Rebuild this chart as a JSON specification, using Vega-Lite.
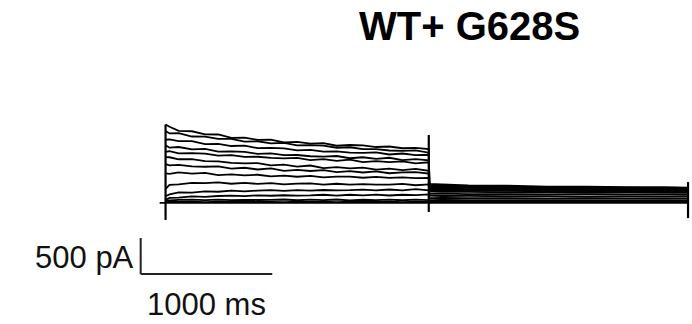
{
"$schema": "https://vega.github.io/schema/vega-lite/v6.json",
"width": 692, "height": 324,
"autosize": {"type": "fit", "contains": "padding"},
"padding": 0,
"background": "white",
"config": {"view": {"stroke": null}, "font": "Liberation Sans"},
"layer": [
{
"data": {"values": [
{"s":0,"t":-45,"i":0},{"s":0,"t":3970,"i":0},
{"s":1,"t":0,"i":1090},{"s":1,"t":30,"i":1059},{"s":1,"t":100,"i":1001},{"s":1,"t":200,"i":996},{"s":1,"t":300,"i":954},{"s":1,"t":400,"i":951},{"s":1,"t":500,"i":903},{"s":1,"t":600,"i":907},{"s":1,"t":700,"i":876},{"s":1,"t":800,"i":881},{"s":1,"t":900,"i":840},{"s":1,"t":1000,"i":849},{"s":1,"t":1100,"i":823},{"s":1,"t":1200,"i":830},{"s":1,"t":1300,"i":795},{"s":1,"t":1400,"i":805},{"s":1,"t":1500,"i":800},{"s":1,"t":1600,"i":777},{"s":1,"t":1700,"i":784},{"s":1,"t":1800,"i":760},{"s":1,"t":1900,"i":764},{"s":1,"t":2000,"i":747},
{"s":1,"t":2005,"i":264},{"s":1,"t":2100,"i":258},{"s":1,"t":2300,"i":243},{"s":1,"t":2600,"i":239},{"s":1,"t":2900,"i":226},{"s":1,"t":3200,"i":227},{"s":1,"t":3500,"i":218},{"s":1,"t":3800,"i":219},{"s":1,"t":3970,"i":214},
{"s":2,"t":0,"i":1001},{"s":2,"t":30,"i":966},{"s":2,"t":100,"i":971},{"s":2,"t":200,"i":923},{"s":2,"t":300,"i":922},{"s":2,"t":400,"i":891},{"s":2,"t":500,"i":891},{"s":2,"t":600,"i":852},{"s":2,"t":700,"i":857},{"s":2,"t":800,"i":828},{"s":2,"t":900,"i":834},{"s":2,"t":1000,"i":799},{"s":2,"t":1100,"i":803},{"s":2,"t":1200,"i":796},{"s":2,"t":1300,"i":767},{"s":2,"t":1400,"i":774},{"s":2,"t":1500,"i":747},{"s":2,"t":1600,"i":748},{"s":2,"t":1700,"i":729},{"s":2,"t":1800,"i":724},{"s":2,"t":1900,"i":730},{"s":2,"t":2000,"i":699},
{"s":2,"t":2005,"i":252},{"s":2,"t":2100,"i":240},{"s":2,"t":2300,"i":236},{"s":2,"t":2600,"i":223},{"s":2,"t":2900,"i":221},{"s":2,"t":3200,"i":212},{"s":2,"t":3500,"i":212},{"s":2,"t":3800,"i":205},{"s":2,"t":3970,"i":206},
{"s":3,"t":0,"i":878},{"s":3,"t":30,"i":882},{"s":3,"t":100,"i":858},{"s":3,"t":200,"i":858},{"s":3,"t":300,"i":818},{"s":3,"t":400,"i":821},{"s":3,"t":500,"i":791},{"s":3,"t":600,"i":797},{"s":3,"t":700,"i":761},{"s":3,"t":800,"i":765},{"s":3,"t":900,"i":758},{"s":3,"t":1000,"i":730},{"s":3,"t":1100,"i":737},{"s":3,"t":1200,"i":713},{"s":3,"t":1300,"i":716},{"s":3,"t":1400,"i":699},{"s":3,"t":1500,"i":695},{"s":3,"t":1600,"i":702},{"s":3,"t":1700,"i":673},{"s":3,"t":1800,"i":687},{"s":3,"t":1900,"i":665},{"s":3,"t":2000,"i":670},
{"s":3,"t":2005,"i":234},{"s":3,"t":2100,"i":231},{"s":3,"t":2300,"i":218},{"s":3,"t":2600,"i":215},{"s":3,"t":2900,"i":205},{"s":3,"t":3200,"i":204},{"s":3,"t":3500,"i":197},{"s":3,"t":3800,"i":198},{"s":3,"t":3970,"i":194},
{"s":4,"t":0,"i":803},{"s":4,"t":30,"i":768},{"s":4,"t":100,"i":777},{"s":4,"t":200,"i":745},{"s":4,"t":300,"i":750},{"s":4,"t":400,"i":714},{"s":4,"t":500,"i":717},{"s":4,"t":600,"i":710},{"s":4,"t":700,"i":682},{"s":4,"t":800,"i":689},{"s":4,"t":900,"i":665},{"s":4,"t":1000,"i":666},{"s":4,"t":1100,"i":649},{"s":4,"t":1200,"i":645},{"s":4,"t":1300,"i":652},{"s":4,"t":1400,"i":621},{"s":4,"t":1500,"i":635},{"s":4,"t":1600,"i":612},{"s":4,"t":1700,"i":628},{"s":4,"t":1800,"i":594},{"s":4,"t":1900,"i":608},{"s":4,"t":2000,"i":593},
{"s":4,"t":2005,"i":224},{"s":4,"t":2100,"i":213},{"s":4,"t":2300,"i":211},{"s":4,"t":2600,"i":199},{"s":4,"t":2900,"i":198},{"s":4,"t":3200,"i":190},{"s":4,"t":3500,"i":191},{"s":4,"t":3800,"i":184},{"s":4,"t":3970,"i":186},
{"s":5,"t":0,"i":708},{"s":5,"t":30,"i":720},{"s":5,"t":100,"i":689},{"s":5,"t":200,"i":693},{"s":5,"t":300,"i":686},{"s":5,"t":400,"i":657},{"s":5,"t":500,"i":664},{"s":5,"t":600,"i":640},{"s":5,"t":700,"i":642},{"s":5,"t":800,"i":625},{"s":5,"t":900,"i":620},{"s":5,"t":1000,"i":626},{"s":5,"t":1100,"i":596},{"s":5,"t":1200,"i":609},{"s":5,"t":1300,"i":586},{"s":5,"t":1400,"i":602},{"s":5,"t":1500,"i":568},{"s":5,"t":1600,"i":582},{"s":5,"t":1700,"i":566},{"s":5,"t":1800,"i":578},{"s":5,"t":1900,"i":550},{"s":5,"t":2000,"i":565},
{"s":5,"t":2005,"i":206},{"s":5,"t":2100,"i":204},{"s":5,"t":2300,"i":193},{"s":5,"t":2600,"i":191},{"s":5,"t":2900,"i":182},{"s":5,"t":3200,"i":182},{"s":5,"t":3500,"i":176},{"s":5,"t":3800,"i":177},{"s":5,"t":3970,"i":174},
{"s":6,"t":0,"i":637},{"s":6,"t":30,"i":635},{"s":6,"t":100,"i":607},{"s":6,"t":200,"i":609},{"s":6,"t":300,"i":581},{"s":6,"t":400,"i":579},{"s":6,"t":500,"i":558},{"s":6,"t":600,"i":550},{"s":6,"t":700,"i":554},{"s":6,"t":800,"i":521},{"s":6,"t":900,"i":532},{"s":6,"t":1000,"i":506},{"s":6,"t":1100,"i":520},{"s":6,"t":1200,"i":485},{"s":6,"t":1300,"i":497},{"s":6,"t":1400,"i":480},{"s":6,"t":1500,"i":491},{"s":6,"t":1600,"i":463},{"s":6,"t":1700,"i":477},{"s":6,"t":1800,"i":457},{"s":6,"t":1900,"i":473},{"s":6,"t":2000,"i":447},
{"s":6,"t":2005,"i":196},{"s":6,"t":2100,"i":187},{"s":6,"t":2300,"i":185},{"s":6,"t":2600,"i":175},{"s":6,"t":2900,"i":175},{"s":6,"t":3200,"i":168},{"s":6,"t":3500,"i":169},{"s":6,"t":3800,"i":165},{"s":6,"t":3970,"i":166},
{"s":7,"t":0,"i":539},{"s":7,"t":30,"i":523},{"s":7,"t":100,"i":528},{"s":7,"t":200,"i":509},{"s":7,"t":300,"i":503},{"s":7,"t":400,"i":508},{"s":7,"t":500,"i":477},{"s":7,"t":600,"i":489},{"s":7,"t":700,"i":465},{"s":7,"t":800,"i":481},{"s":7,"t":900,"i":447},{"s":7,"t":1000,"i":460},{"s":7,"t":1100,"i":444},{"s":7,"t":1200,"i":456},{"s":7,"t":1300,"i":428},{"s":7,"t":1400,"i":443},{"s":7,"t":1500,"i":423},{"s":7,"t":1600,"i":439},{"s":7,"t":1700,"i":413},{"s":7,"t":1800,"i":426},{"s":7,"t":1900,"i":429},{"s":7,"t":2000,"i":409},
{"s":7,"t":2005,"i":178},{"s":7,"t":2100,"i":178},{"s":7,"t":2300,"i":169},{"s":7,"t":2600,"i":168},{"s":7,"t":2900,"i":160},{"s":7,"t":3200,"i":161},{"s":7,"t":3500,"i":156},{"s":7,"t":3800,"i":157},{"s":7,"t":3970,"i":154},
{"s":8,"t":0,"i":411},{"s":8,"t":30,"i":403},{"s":8,"t":100,"i":426},{"s":8,"t":200,"i":407},{"s":8,"t":300,"i":418},{"s":8,"t":400,"i":388},{"s":8,"t":500,"i":398},{"s":8,"t":600,"i":384},{"s":8,"t":700,"i":392},{"s":8,"t":800,"i":370},{"s":8,"t":900,"i":381},{"s":8,"t":1000,"i":364},{"s":8,"t":1100,"i":377},{"s":8,"t":1200,"i":355},{"s":8,"t":1300,"i":365},{"s":8,"t":1400,"i":366},{"s":8,"t":1500,"i":350},{"s":8,"t":1600,"i":361},{"s":8,"t":1700,"i":348},{"s":8,"t":1800,"i":355},{"s":8,"t":1900,"i":346},{"s":8,"t":2000,"i":347},
{"s":8,"t":2005,"i":162},{"s":8,"t":2100,"i":155},{"s":8,"t":2300,"i":155},{"s":8,"t":2600,"i":147},{"s":8,"t":2900,"i":148},{"s":8,"t":3200,"i":142},{"s":8,"t":3500,"i":143},{"s":8,"t":3800,"i":140},{"s":8,"t":3970,"i":141},
{"s":9,"t":0,"i":196},{"s":9,"t":30,"i":251},{"s":9,"t":100,"i":257},{"s":9,"t":200,"i":280},{"s":9,"t":300,"i":275},{"s":9,"t":400,"i":285},{"s":9,"t":500,"i":267},{"s":9,"t":600,"i":278},{"s":9,"t":700,"i":265},{"s":9,"t":800,"i":276},{"s":9,"t":900,"i":259},{"s":9,"t":1000,"i":269},{"s":9,"t":1100,"i":271},{"s":9,"t":1200,"i":256},{"s":9,"t":1300,"i":267},{"s":9,"t":1400,"i":256},{"s":9,"t":1500,"i":262},{"s":9,"t":1600,"i":255},{"s":9,"t":1700,"i":255},{"s":9,"t":1800,"i":264},{"s":9,"t":1900,"i":246},{"s":9,"t":2000,"i":258},
{"s":9,"t":2005,"i":128},{"s":9,"t":2100,"i":130},{"s":9,"t":2300,"i":123},{"s":9,"t":2600,"i":124},{"s":9,"t":2900,"i":118},{"s":9,"t":3200,"i":120},{"s":9,"t":3500,"i":116},{"s":9,"t":3800,"i":117},{"s":9,"t":3970,"i":114},
{"s":10,"t":0,"i":94},{"s":10,"t":30,"i":118},{"s":10,"t":100,"i":148},{"s":10,"t":200,"i":144},{"s":10,"t":300,"i":161},{"s":10,"t":400,"i":156},{"s":10,"t":500,"i":171},{"s":10,"t":600,"i":160},{"s":10,"t":700,"i":172},{"s":10,"t":800,"i":177},{"s":10,"t":900,"i":168},{"s":10,"t":1000,"i":179},{"s":10,"t":1100,"i":172},{"s":10,"t":1200,"i":180},{"s":10,"t":1300,"i":175},{"s":10,"t":1400,"i":178},{"s":10,"t":1500,"i":186},{"s":10,"t":1600,"i":174},{"s":10,"t":1700,"i":187},{"s":10,"t":1800,"i":176},{"s":10,"t":1900,"i":191},{"s":10,"t":2000,"i":174},
{"s":10,"t":2005,"i":102},{"s":10,"t":2100,"i":97},{"s":10,"t":2300,"i":99},{"s":10,"t":2600,"i":93},{"s":10,"t":2900,"i":95},{"s":10,"t":3200,"i":89},{"s":10,"t":3500,"i":91},{"s":10,"t":3800,"i":88},{"s":10,"t":3970,"i":89},
{"s":11,"t":0,"i":45},{"s":11,"t":30,"i":70},{"s":11,"t":100,"i":74},{"s":11,"t":200,"i":91},{"s":11,"t":300,"i":84},{"s":11,"t":400,"i":97},{"s":11,"t":500,"i":102},{"s":11,"t":600,"i":95},{"s":11,"t":700,"i":106},{"s":11,"t":800,"i":100},{"s":11,"t":900,"i":107},{"s":11,"t":1000,"i":103},{"s":11,"t":1100,"i":106},{"s":11,"t":1200,"i":114},{"s":11,"t":1300,"i":103},{"s":11,"t":1400,"i":114},{"s":11,"t":1500,"i":106},{"s":11,"t":1600,"i":117},{"s":11,"t":1700,"i":104},{"s":11,"t":1800,"i":114},{"s":11,"t":1900,"i":109},{"s":11,"t":2000,"i":118},
{"s":11,"t":2005,"i":68},{"s":11,"t":2100,"i":71},{"s":11,"t":2300,"i":66},{"s":11,"t":2600,"i":68},{"s":11,"t":2900,"i":63},{"s":11,"t":3200,"i":66},{"s":11,"t":3500,"i":62},{"s":11,"t":3800,"i":63},{"s":11,"t":3970,"i":61},
{"s":12,"t":0,"i":35},{"s":12,"t":30,"i":34},{"s":12,"t":100,"i":44},{"s":12,"t":200,"i":46},{"s":12,"t":300,"i":39},{"s":12,"t":400,"i":46},{"s":12,"t":500,"i":40},{"s":12,"t":600,"i":44},{"s":12,"t":700,"i":41},{"s":12,"t":800,"i":42},{"s":12,"t":900,"i":48},{"s":12,"t":1000,"i":38},{"s":12,"t":1100,"i":46},{"s":12,"t":1200,"i":40},{"s":12,"t":1300,"i":48},{"s":12,"t":1400,"i":37},{"s":12,"t":1500,"i":45},{"s":12,"t":1600,"i":40},{"s":12,"t":1700,"i":47},{"s":12,"t":1800,"i":38},{"s":12,"t":1900,"i":46},{"s":12,"t":2000,"i":39},
{"s":12,"t":2005,"i":40},{"s":12,"t":2100,"i":41},{"s":12,"t":2300,"i":39},{"s":12,"t":2600,"i":40},{"s":12,"t":2900,"i":38},{"s":12,"t":3200,"i":39},{"s":12,"t":3500,"i":37},{"s":12,"t":3800,"i":38},{"s":12,"t":3970,"i":36},
{"s":13,"t":0,"i":10},{"s":13,"t":30,"i":16},{"s":13,"t":100,"i":14},{"s":13,"t":200,"i":18},{"s":13,"t":300,"i":13},{"s":13,"t":400,"i":17},{"s":13,"t":500,"i":15},{"s":13,"t":600,"i":19},{"s":13,"t":700,"i":14},{"s":13,"t":800,"i":16},{"s":13,"t":900,"i":12},{"s":13,"t":1000,"i":18},{"s":13,"t":1100,"i":15},{"s":13,"t":1200,"i":17},{"s":13,"t":1300,"i":13},{"s":13,"t":1400,"i":19},{"s":13,"t":1500,"i":14},{"s":13,"t":1600,"i":16},{"s":13,"t":1700,"i":18},{"s":13,"t":1800,"i":13},{"s":13,"t":1900,"i":17},{"s":13,"t":2000,"i":15},
{"s":13,"t":2005,"i":18},{"s":13,"t":2100,"i":16},{"s":13,"t":2300,"i":19},{"s":13,"t":2600,"i":15},{"s":13,"t":2900,"i":18},{"s":13,"t":3200,"i":16},{"s":13,"t":3500,"i":17},{"s":13,"t":3800,"i":15},{"s":13,"t":3970,"i":16}
]},
"mark": {"type": "line", "color": "black", "strokeWidth": 1.8},
"encoding": {
"x": {"field": "t", "type": "quantitative", "scale": {"domain": [-1258, 3985], "nice": false, "zero": false}, "axis": null},
"y": {"field": "i", "type": "quantitative", "scale": {"domain": [-1681, 2819], "nice": false, "zero": false}, "axis": null},
"detail": {"field": "s", "type": "nominal"}
}
},
{
"data": {"values": [
{"t": 0, "a": 1090, "b": -236},
{"t": 2000, "a": 944, "b": -125},
{"t": 3970, "a": 290, "b": -210}
]},
"mark": {"type": "rule", "color": "black", "strokeWidth": 2.2},
"encoding": {
"x": {"field": "t", "type": "quantitative"},
"y": {"field": "a", "type": "quantitative"},
"y2": {"field": "b"}
}
},
{
"data": {"values": [
{"x1": -189, "x2": -189, "y1": -486, "y2": -986},
{"x1": -189, "x2": 811, "y1": -986, "y2": -986}
]},
"mark": {"type": "rule", "color": "#222222", "strokeWidth": 2},
"encoding": {
"x": {"field": "x1", "type": "quantitative"},
"x2": {"field": "x2"},
"y": {"field": "y1", "type": "quantitative"},
"y2": {"field": "y2"}
}
},
{
"data": {"values": [{"label": "500 pA", "t": -245, "i": -903}]},
"mark": {"type": "text", "baseline": "alphabetic", "align": "right", "color": "#111111", "fontSize": 31},
"encoding": {
"x": {"field": "t", "type": "quantitative"},
"y": {"field": "i", "type": "quantitative"},
"text": {"field": "label"}
}
},
{
"data": {"values": [{"label": "1000 ms", "t": 311, "i": -1556}]},
"mark": {"type": "text", "baseline": "alphabetic", "align": "center", "color": "#111111", "fontSize": 31},
"encoding": {
"x": {"field": "t", "type": "quantitative"},
"y": {"field": "i", "type": "quantitative"},
"text": {"field": "label"}
}
},
{
"data": {"values": [{"label": "WT+ G628S", "t": 2311, "i": 2264}]},
"mark": {"type": "text", "baseline": "alphabetic", "align": "center", "color": "black", "fontSize": 40, "fontWeight": "bold"},
"encoding": {
"x": {"field": "t", "type": "quantitative"},
"y": {"field": "i", "type": "quantitative"},
"text": {"field": "label"}
}
}
]
}
